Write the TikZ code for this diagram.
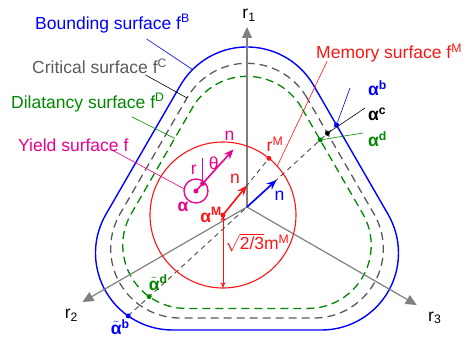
\documentclass[tikz,border=0pt]{standalone}
\usepackage{fontspec}
\setmainfont{Liberation Sans}
\usepackage{xcolor}
\usepackage{tikz}
\usetikzlibrary{arrows.meta, positioning, calc}

\definecolor{axgray}{RGB}{128,128,128}
\definecolor{critgray}{RGB}{90,90,90}
\definecolor{dilgreen}{RGB}{0,135,0}
\definecolor{memred}{RGB}{255,20,20}

\begin{document}
\begin{tikzpicture}[
  x=1pt, y=1pt,
  font=\fontsize{17.5}{21}\selectfont,
  surfB/.style={draw=blue, line width=1.4pt},
  surfC/.style={draw=critgray, line width=1.3pt, dash pattern=on 8pt off 5pt},
  surfD/.style={draw=dilgreen, line width=1.3pt, dash pattern=on 8pt off 5pt},
  axline/.style={draw=axgray, line width=1.2pt, -{Triangle[length=11pt, width=10pt]}},
  nline/.style={draw=black!70, line width=0.9pt, dash pattern=on 5pt off 4pt},
  lead/.style={line width=0.6pt},
  narrow/.style={line width=1.6pt, -{Stealth[length=10pt, width=8pt]}},
  dot/.style={circle, fill, inner sep=0pt, minimum size=5pt},
  lbl/.style={inner sep=1pt},
  sym/.style={inner sep=1pt, font=\fontsize{17.5}{21}\selectfont\bfseries}
]
\useasboundingbox (-247,-136) rectangle (221,207);

% bounding, critical and dilatancy surfaces
\begin{scope}[shift={(0,-3)}]
  \draw[surfB] (90:86) ++(30:77) arc[start angle=30, end angle=150, radius=77]
    -- ++(240:148.96) arc[start angle=150, end angle=270, radius=77]
    -- ++(0:148.96) arc[start angle=270, end angle=390, radius=77] -- cycle;
  \path (90:86) ++(135:77) coordinate (onB);
\end{scope}
\begin{scope}[shift={(0,-3)}, scale=0.9]
  \draw[surfC] (90:86) ++(30:77) arc[start angle=30, end angle=150, radius=77]
    -- ++(240:148.96) arc[start angle=150, end angle=270, radius=77]
    -- ++(0:148.96) arc[start angle=270, end angle=390, radius=77] -- cycle;
  \path (90:86) ++(150:77) coordinate (onC);
\end{scope}
\begin{scope}[shift={(0,-3)}, scale=0.82]
  \draw[surfD] (90:86) ++(30:77) arc[start angle=30, end angle=150, radius=77]
    -- ++(240:148.96) arc[start angle=150, end angle=270, radius=77]
    -- ++(0:148.96) arc[start angle=270, end angle=390, radius=77] -- cycle;
  \path (210:86) ++(150:77) ++(60:106) coordinate (onD);
\end{scope}

% axes
\coordinate (O) at (0,0);
\coordinate (r1end) at (90:180);
\coordinate (r2end) at (210:190);
\coordinate (r3end) at (330:196);
\draw[axline] (O) -- (r1end);
\draw[axline] (O) -- (r2end);
\draw[axline] (O) -- (r3end);
\node[lbl] (r1lbl) at ([xshift=2pt, yshift=12pt]r1end) {r\textsubscript{1}};
\node[lbl] (r2lbl) at ([xshift=-11pt, yshift=-13pt]r2end) {r\textsubscript{2}};
\node[lbl] (r3lbl) at ([xshift=18pt, yshift=-13pt]r3end) {r\textsubscript{3}};

% image points along n
\coordinate (ab) at (42.5:121.4);
\coordinate (ac) at (42.5:109.1);
\coordinate (ad) at (42.5:99.3);
\coordinate (tab) at (222.5:161.2);
\coordinate (tad) at (222.5:132.7);
\coordinate (nO) at (42.5:40);
\draw[nline] (tab) -- (ab);

% memory surface
\coordinate (aM) at (-24,-8);
\node[circle, draw=memred, line width=1.1pt, minimum size=146pt, inner sep=0pt, outer sep=0pt] (memc) at (aM) {};
\coordinate (rM) at (memc.51.5);
\coordinate (nM) at ($(aM)!38pt!(rM)$);
\draw[nline] (aM) -- (rM);
\draw[memred, line width=0.8pt, {Stealth[length=6pt, width=5pt]}-{Stealth[length=6pt, width=5pt]}] (aM) -- node[lbl, memred, pos=0.38, right=1pt] (mMlbl) {$\sqrt{\mbox{2/3}}$m\textsuperscript{M}} (memc.south);
\draw[narrow, memred] (aM) -- (nM);

% yield surface
\coordinate (ay) at (-51,16);
\node[circle, draw=magenta, line width=1.3pt, minimum size=24pt, inner sep=0pt, outer sep=0pt] (yld) at (ay) {};
\coordinate (sy) at ($(ay)+(48:10)$);
\coordinate (ny) at ($(sy)+(48:46)$);
\coordinate (vy) at ($(sy)+(0,26)$);
\draw[magenta, line width=1.6pt] (ay) -- (sy);
\draw[narrow, magenta] (sy) -- (ny);
\draw[magenta, lead] (sy) -- (vy);

\draw[narrow, blue] (O) -- (nO);

% points
\node[dot, blue] (abdot) at (ab) {};
\node[dot, black] (acdot) at (ac) {};
\node[dot, dilgreen] (addot) at (ad) {};
\node[dot, blue] (tabdot) at (tab) {};
\node[dot, dilgreen] (taddot) at (tad) {};
\node[dot, memred] (rMdot) at (rM) {};
\node[dot, memred] (aMdot) at (aM) {};
\node[dot, magenta] (aydot) at (ay) {};
\node[dot, magenta] (sydot) at (sy) {};

% labels
\node[lbl, blue, anchor=west] (bnd) at (-213,183.5) {Bounding surface f\textsuperscript{B}};
\node[lbl, critgray, anchor=west] (crit) at (-216,140.7) {Critical surface f\textsuperscript{C}};
\node[lbl, dilgreen, anchor=west] (dil) at (-237,104.5) {Dilatancy surface f\textsuperscript{D}};
\node[lbl, magenta, anchor=west] (yldlbl) at (-230,62) {Yield surface f};
\node[lbl, memred, anchor=west] (memlbl) at (68,154) {Memory surface f\textsuperscript{M}};
\node[sym, blue, anchor=west] (alb) at (120,119) {α\textsuperscript{b}};
\node[sym, black, anchor=west] (alc) at (120,93) {α\textsuperscript{c}};
\node[sym, dilgreen, anchor=west] (ald) at (120,68) {α\textsuperscript{d}};
\node[sym, blue] (talb) at ([xshift=-8pt, yshift=-11pt]tab) {$\tilde{\mbox{α}}$\textsuperscript{b}};
\node[sym, dilgreen] (tald) at ([xshift=9pt, yshift=14pt]tad) {$\tilde{\mbox{α}}$\textsuperscript{d}};
\node[sym, memred, left=0pt of aM] (aMlbl) {α\textsuperscript{M}};
\node[sym, magenta] (aylbl) at ([xshift=-13pt, yshift=-16pt]ay) {α};
\node[lbl, magenta] (rlbl) at ([xshift=-9pt, yshift=14pt]sy) {r};
\node[lbl, magenta] (thlbl) at ([xshift=11pt, yshift=20pt]sy) {θ};
\node[lbl, magenta] (nylbl) at ([xshift=-4pt, yshift=14pt]ny) {n};
\node[lbl, memred] (nMlbl) at ([xshift=-12pt, yshift=7pt]nM) {n};
\node[lbl, blue] (nOlbl) at ([xshift=3pt, yshift=-16pt]nO) {n};
\node[lbl, memred] (rMlbl) at ([xshift=6pt, yshift=14pt]rM) {r\textsuperscript{M}};

% leaders
\draw[lead, blue] ([xshift=34pt, yshift=-5pt]bnd.south) -- (onB);
\draw[lead, black] ([xshift=46pt]crit.south) -- (onC);
\draw[lead, dilgreen] ([xshift=44pt, yshift=-4pt]dil.south) -- (onD);
\draw[lead, magenta] ([xshift=38pt, yshift=3pt]yldlbl.south) -- (yld.170);
\draw[lead, memred] ([xshift=12pt, yshift=2pt]memlbl.south west) -- (memc.42);
\draw[lead, blue] (abdot) -- ([xshift=-17pt]alb.west);
\draw[lead, black] (acdot) -- ([xshift=-2pt, yshift=6pt]alc.west);
\draw[lead, dilgreen] (addot) -- ([xshift=-4pt, yshift=6pt]ald.west);
\end{tikzpicture}
\end{document}
